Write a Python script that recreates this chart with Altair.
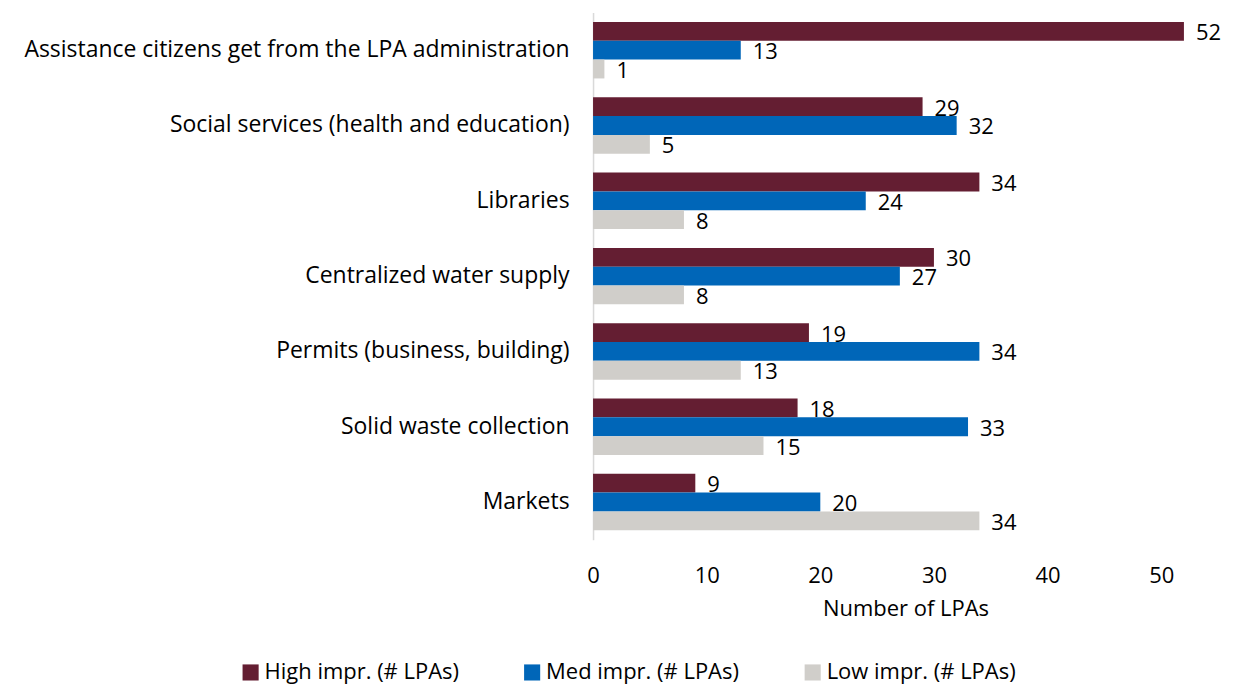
import altair as alt
import pandas as pd

categories = [
    "Assistance citizens get from the LPA administration",
    "Social services (health and education)",
    "Libraries",
    "Centralized water supply",
    "Permits (business, building)",
    "Solid waste collection",
    "Markets",
]
series = ["High impr. (# LPAs)", "Med impr. (# LPAs)", "Low impr. (# LPAs)"]
high = [52, 29, 34, 30, 19, 18, 9]
med = [13, 32, 24, 27, 34, 33, 20]
low = [1, 5, 8, 8, 13, 15, 34]
colors = ["#641E32", "#0066B8", "#D0CECA"]

rows = []
for i, c in enumerate(categories):
    for s, vals in zip(series, [high, med, low]):
        rows.append({"category": c, "series": s, "value": vals[i]})
df = pd.DataFrame(rows)

FONT = "Open Sans"
FS = 22

y_enc = alt.Y("category:N", sort=categories, title=None,
              scale=alt.Scale(paddingInner=0.25, paddingOuter=0.125),
              axis=alt.Axis(labelFont=FONT, labelFontSize=23, labelColor="black",
                            ticks=False, domainColor="#D9D9D9", domainWidth=1.5,
                            labelPadding=24, labelLimit=800))
yoff = alt.YOffset("series:N", sort=series)
x_enc = alt.X("value:Q", title="Number of LPAs",
              scale=alt.Scale(domain=[0, 55], nice=False),
              axis=alt.Axis(values=[0, 10, 20, 30, 40, 50], grid=False, ticks=False,
                            domain=False, labelFont=FONT, labelFontSize=FS,
                            labelColor="black", labelPadding=26, labelFlush=False,
                            titleFont=FONT, titleFontSize=FS, titleFontWeight="normal",
                            titleColor="black", titlePadding=12))

bars = alt.Chart(df).mark_bar().encode(
    y=y_enc, yOffset=yoff, x=x_enc,
    color=alt.Color("series:N", sort=series,
                    scale=alt.Scale(domain=series, range=colors),
                    legend=alt.Legend(title=None, orient="none", direction="horizontal",
                                      legendX=-354, legendY=650,
                                      symbolType="square", symbolSize=260,
                                      symbolStrokeWidth=0,
                                      labelFont=FONT, labelFontSize=FS,
                                      labelColor="black", columnPadding=62,
                                      labelLimit=400, labelOffset=3)),
)

labels = alt.Chart(df).mark_text(align="left", baseline="middle", dx=12, dy=2,
                                 font=FONT, fontSize=FS, color="black").encode(
    y=alt.Y("category:N", sort=categories), yOffset=yoff, x="value:Q", text="value:Q"
)

chart = (bars + labels).properties(
    width=626, height=528,
    autosize=alt.AutoSizeParams(type="none"),
    padding={"left": 586, "top": 4, "right": 10, "bottom": 146},
).configure_view(stroke=None)

chart.save("out.html", embed_options={"renderer": "svg", "actions": False})
